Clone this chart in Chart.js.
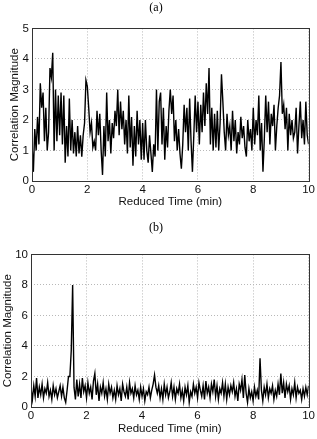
<!DOCTYPE html>
<html>
<head>
<meta charset="utf-8">
<script src="https://cdn.jsdelivr.net/npm/chart.js@4/dist/chart.umd.min.js"></script>
<style>
  html, body { margin: 0; padding: 0; background: #fff; }
  body { width: 317px; height: 439px; position: relative; overflow: hidden; }
  canvas { position: absolute; left: 0; }
  #chartA { top: 0; }
  #chartB { top: 220px; }
</style>
</head>
<body>
<canvas id="chartA" width="317" height="212"></canvas>
<canvas id="chartB" width="317" height="219"></canvas>
<script>
// sample spacing in minutes (reduced time axis)
const sampleStep = 0.05;

const xTicks = [0, 2, 4, 6, 8, 10];
const yTicksA = [0, 1, 2, 3, 4, 5];
const yTicksB = [0, 2, 4, 6, 8, 10];

// (a) correlation magnitude, one row per minute
const magnitudeA = [
  1.2, 0.3, 1.7, 1.0, 2.1, 1.2, 3.2, 2.4, 2.9, 1.3, 2.4, 1.0, 1.6, 3.7, 3.4, 4.2, 1.0, 3.0, 1.3, 2.8,
  1.5, 2.9, 1.2, 2.8, 0.6, 1.8, 0.8, 2.7, 1.0, 2.0, 0.9, 1.6, 0.8, 1.8, 0.9, 1.5, 0.8, 1.5, 1.9, 3.3,
  3.1, 2.4, 1.6, 1.9, 1.1, 1.3, 1.0, 2.3, 1.5, 2.2, 1.0, 0.2, 1.8, 0.8, 2.9, 1.3, 2.0, 0.9, 1.9, 1.4,
  2.3, 1.8, 3.0, 1.5, 2.6, 1.7, 2.3, 1.2, 2.0, 0.9, 2.8, 1.1, 2.1, 0.5, 1.8, 0.8, 2.3, 1.2, 2.0, 0.7,
  1.9, 0.7, 2.0, 1.0, 0.6, 1.5, 0.9, 0.3, 1.2, 0.8, 3.0, 1.0, 2.6, 2.9, 1.2, 2.4, 0.7, 1.8, 1.1, 2.3,
  3.0, 2.2, 2.8, 1.3, 2.0, 1.0, 1.7, 0.9, 0.4, 1.2, 2.5, 1.6, 2.4, 1.0, 2.7, 1.3, 0.3, 1.5, 2.8, 1.6,
  2.6, 1.2, 2.5, 1.6, 2.9, 1.8, 3.2, 2.2, 3.7, 1.2, 2.4, 1.0, 2.2, 1.1, 2.3, 1.0, 1.9, 3.5, 2.6, 1.6,
  1.0, 2.2, 1.5, 1.8, 1.0, 2.3, 1.3, 2.0, 0.9, 1.6, 1.2, 2.1, 1.4, 1.8, 1.1, 0.8, 2.0, 1.3, 1.7, 1.0,
  2.4, 1.2, 2.0, 1.5, 2.8, 1.0, 1.9, 0.3, 1.4, 2.8, 1.6, 2.6, 1.2, 2.2, 1.8, 2.5, 1.0, 1.8, 2.4, 2.8,
  3.9, 2.2, 2.5, 1.7, 2.4, 1.0, 2.2, 1.5, 2.0, 1.4, 1.6, 2.4, 0.9, 1.8, 2.6, 1.4, 2.0, 1.2, 2.6, 1.5,
  1.2
];

// (b) correlation magnitude, one row per minute
const magnitudeB = [
  1.2, 0.5, 1.4, 0.7, 1.9, 0.6, 1.3, 0.8, 1.5, 0.6, 1.2, 0.9, 1.6, 0.7, 1.1, 0.5, 1.4, 0.8, 1.2, 0.6,
  1.0, 1.4, 0.7, 1.3, 0.6, 0.3, 1.1, 2.0, 2.0, 3.7, 8.0, 1.3, 0.5, 1.8, 0.7, 1.5, 0.6, 1.9, 1.0, 1.4,
  0.6, 1.6, 0.9, 1.3, 0.5, 1.7, 2.2, 0.8, 1.5, 0.4, 1.3, 0.9, 1.6, 0.7, 1.2, 0.5, 1.5, 0.9, 1.3, 0.6,
  1.1, 0.5, 1.4, 0.8, 1.2, 0.4, 1.5, 1.0, 0.7, 1.3, 0.5, 1.6, 0.9, 1.2, 0.6, 1.4, 0.8, 1.1, 0.5, 1.3,
  0.7, 1.2, 0.4, 1.0, 0.8, 1.3, 0.6, 1.1, 1.5, 2.1, 1.3, 0.9, 1.4, 0.6, 1.2, 0.5, 1.5, 0.8, 1.3, 0.6,
  1.0, 1.6, 0.7, 1.3, 0.5, 1.2, 0.9, 1.5, 0.6, 1.1, 0.4, 1.3, 0.8, 1.4, 0.3, 1.0, 0.7, 1.5, 0.9, 1.3,
  0.6, 1.6, 1.1, 0.7, 1.4, 0.5, 1.7, 0.9, 1.3, 0.6, 1.5, 1.0, 1.8, 0.7, 1.4, 0.5, 1.2, 0.9, 1.6, 0.7,
  1.5, 0.5, 1.3, 0.8, 1.4, 1.0, 1.6, 0.7, 1.2, 0.4, 1.5, 1.1, 1.8, 0.6, 2.1, 0.9, 0.3, 1.2, 0.6, 1.0,
  0.4, 1.3, 0.7, 1.1, 0.5, 3.2, 1.1, 0.4, 1.3, 0.8, 1.5, 0.6, 1.2, 0.9, 1.4, 0.5, 1.1, 0.7, 1.5, 0.8,
  2.2, 0.9, 1.6, 0.6, 1.5, 1.0, 1.4, 0.5, 1.2, 0.8, 1.6, 0.6, 1.3, 0.9, 1.1, 0.5, 1.2, 0.7, 1.3, 0.8,
  1.4
];

const tickFont = { family: "'Liberation Sans', Arial, sans-serif", size: 11.5 };

// draws the full axes box like matlab does
const boxPlugin = {
  id: "box",
  afterDraw(chart) {
    const { ctx, chartArea } = chart;
    ctx.save();
    ctx.strokeStyle = "#333";
    ctx.lineWidth = 1;
    ctx.strokeRect(
      Math.round(chartArea.left) + 0.5,
      Math.round(chartArea.top) + 0.5,
      Math.round(chartArea.right - chartArea.left),
      Math.round(chartArea.bottom - chartArea.top)
    );
    ctx.restore();
  },
};

function makeChart(canvasId, label, values, yTicks, yWidth, yTitlePad, topPad, xHeight) {
  const points = values.map((v, i) => ({ x: i * sampleStep, y: v }));
  const yMax = yTicks[yTicks.length - 1];

  return new Chart(document.getElementById(canvasId), {
    type: "line",
    data: {
      datasets: [
        {
          data: points,
          borderColor: "#000",
          borderWidth: 1.4,
          pointRadius: 0,
          tension: 0,
          fill: false,
        },
      ],
    },
    options: {
      responsive: false,
      animation: false,
      devicePixelRatio: 1,
      layout: { padding: { left: 0, right: 5, top: 0, bottom: 0 } },
      plugins: {
        legend: { display: false },
        tooltip: { enabled: false },
        title: {
          display: true,
          text: label,
          color: "#000",
          font: { family: "'Liberation Serif', 'Times New Roman', serif", size: 12, weight: "normal" },
          padding: { top: 1, bottom: topPad },
        },
      },
      scales: {
        x: {
          type: "linear",
          min: 0,
          max: 10,
          afterBuildTicks: (scale) => {
            scale.ticks = xTicks.map((v) => ({ value: v }));
          },
          afterFit: (scale) => {
            scale.height = xHeight;
          },
          grid: {
            color: "#b8b8b8",
            lineWidth: 1,
            drawTicks: false,
          },
          border: { display: false, dash: [1, 2] },
          ticks: { color: "#111", font: tickFont, padding: 2, maxRotation: 0 },
          title: {
            display: true,
            text: "Reduced Time (min)",
            color: "#111",
            font: tickFont,
            padding: { top: 3, bottom: 3 },
          },
        },
        y: {
          type: "linear",
          min: 0,
          max: yMax,
          afterBuildTicks: (scale) => {
            scale.ticks = yTicks.map((v) => ({ value: v }));
          },
          afterFit: (scale) => {
            scale.width = yWidth;
          },
          grid: {
            color: "#b8b8b8",
            lineWidth: 1,
            drawTicks: false,
          },
          border: { display: false, dash: [1, 2] },
          ticks: { color: "#111", font: tickFont, padding: 3 },
          title: {
            display: true,
            text: "Correlation Magnitude",
            color: "#111",
            font: tickFont,
            padding: { top: yTitlePad, bottom: yTitlePad },
          },
        },
      },
    },
    plugins: [boxPlugin],
  });
}

makeChart("chartA", "(a)", magnitudeA, yTicksA, 32, 8, 13, 31);
makeChart("chartB", "(b)", magnitudeB, yTicksB, 31, 1, 19, 32);
</script>
</body>
</html>
